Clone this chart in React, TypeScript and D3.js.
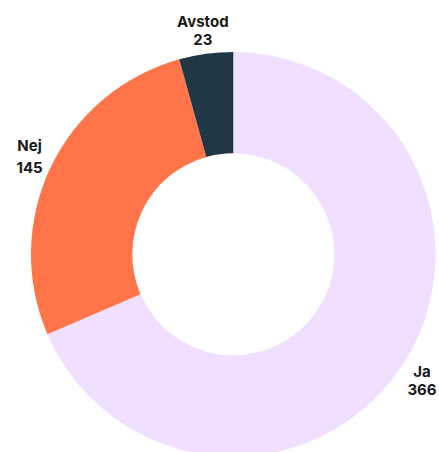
import React from "react";
import * as d3 from "d3";

const categories = ["Ja", "Nej", "Avstod"];
const values = [366, 145, 23];
const colors = ["#F0DFFE", "#FF7549", "#213746"];

const W = 439;
const H = 452;
const cx = 233.3;
const cy = 254.3;
const outerR = 202.3;
const innerR = 101;
const labelR = 226;
const labelFirstDy = [-2, -5.5, -3.5];
const labelLineGap = [18, 21.5, 18.5];

export default function App() {
  const pie = d3.pie<number>().sort(null).value((d) => d);
  const arcs = pie(values);
  const arc = d3.arc<d3.PieArcDatum<number>>().innerRadius(innerR).outerRadius(outerR);
  const labelArc = d3.arc<d3.PieArcDatum<number>>().innerRadius(labelR).outerRadius(labelR);
  return (
    <svg width={W} height={H} style={{ position: "absolute", left: 0, top: 0 }}>
      <g transform={`translate(${cx},${cy})`}>
        {arcs.map((a, i) => (
          <path key={i} d={arc(a) || ""} fill={colors[i]} />
        ))}
        {arcs.map((a, i) => {
          const [x, y] = labelArc.centroid(a);
          return (
            <text
              key={"l" + i}
              x={x}
              y={y}
              textAnchor="middle"
              fontFamily="Inter, 'Noto Sans', sans-serif"
              fontWeight={700}
              fontSize={15}
              fill="#1a1a1a"
            >
              <tspan x={x} dy={labelFirstDy[i]}>{categories[i]}</tspan>
              <tspan x={x} dy={labelLineGap[i]}>{values[i]}</tspan>
            </text>
          );
        })}
      </g>
    </svg>
  );
}
